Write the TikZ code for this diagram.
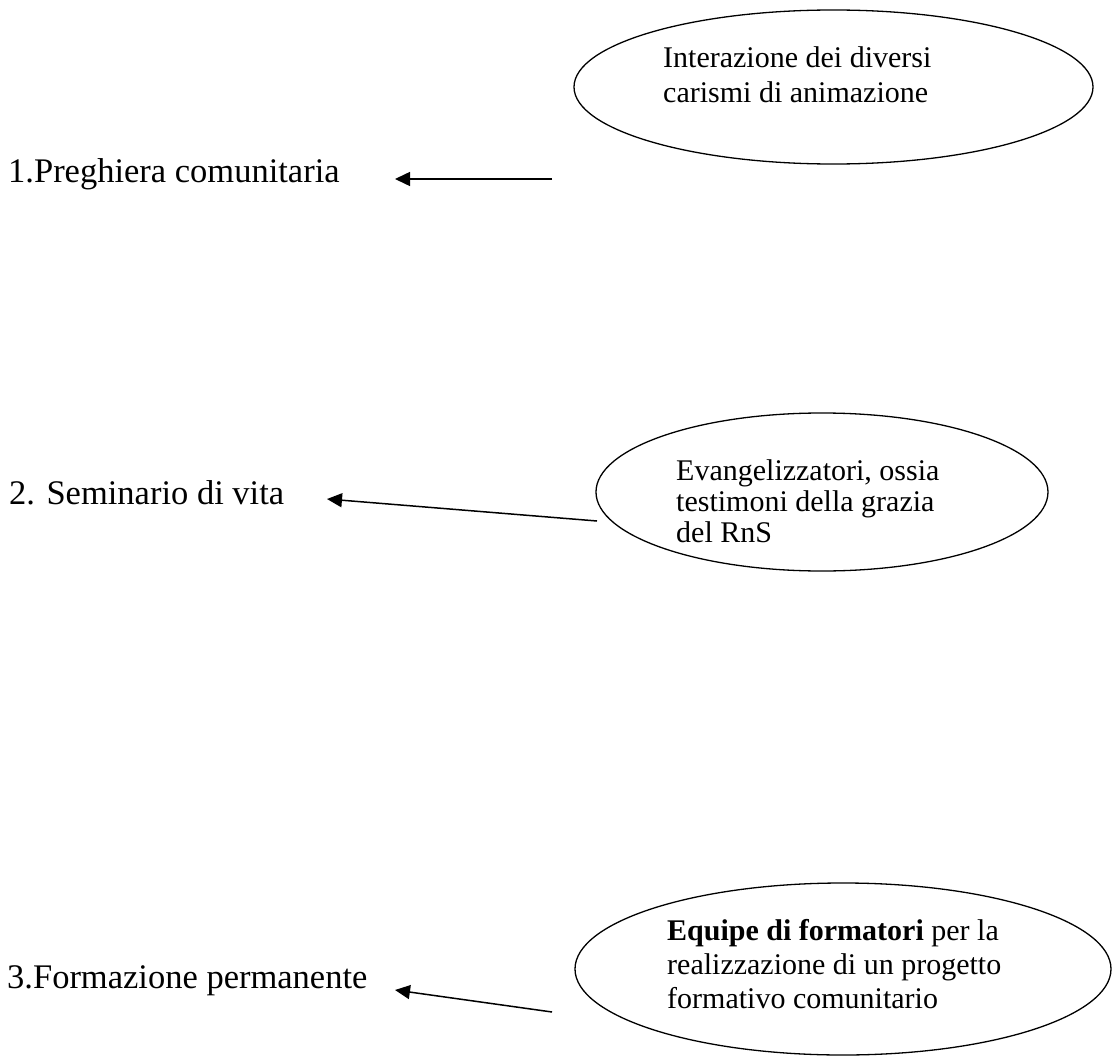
\documentclass[tikz,border=0pt]{standalone}
\usepackage{fontspec}
\setmainfont{Liberation Serif}
\usetikzlibrary{shapes.geometric, arrows.meta}
\begin{document}
\begin{tikzpicture}[x=1pt,y=-1pt,
  oval/.style={draw, ellipse, line width=1.3pt, inner sep=0pt},
  lefttext/.style={anchor=base west, inner sep=0pt, font=\fontsize{34.5}{40}\selectfont},
  ovaltext/.style={anchor=base west, inner sep=0pt, font=\fontsize{30}{34}\selectfont},
  arr/.style={line width=1.5pt, -{Triangle[length=15pt,width=14pt]}}]
\useasboundingbox (0,0) rectangle (1112,1057);
% left labels
\node[lefttext] (p1) at (8,182) {1.Preghiera comunitaria};
\node[lefttext] (p2) at (9,504) {2. Seminario di vita};
\node[lefttext] (p3) at (7,988) {3.Formazione permanente};
% ellipses
\node[oval, minimum width=519pt, minimum height=154pt] (e1) at (833.5,87) {};
\node[oval, minimum width=452pt, minimum height=158pt] (e2) at (822,492) {};
\node[oval, minimum width=536pt, minimum height=172pt] (e3) at (843,969) {};
% ellipse texts
\node[ovaltext, font=\fontsize{30}{35}\selectfont] (t1) at (663,68)
  {\begin{tabular}[t]{@{}l@{}}Interazione dei diversi\\carismi di animazione\end{tabular}};
\node[ovaltext, font=\fontsize{30}{31}\selectfont] (t2) at (676,480)
  {\begin{tabular}[t]{@{}l@{}}Evangelizzatori, ossia\\testimoni della grazia\\del RnS\end{tabular}};
\node[ovaltext] (t3) at (667,940)
  {\begin{tabular}[t]{@{}l@{}}\textbf{Equipe di formatori} per la\\realizzazione di un progetto\\formativo comunitario\end{tabular}};
% connectors
\coordinate (s1) at (552,179); \coordinate (h1) at (395,179);
\coordinate (s2) at (597,521); \coordinate (h2) at (327,499);
\coordinate (s3) at (552,1012); \coordinate (h3) at (395,990);
\draw[arr] (s1) -- (h1);
\draw[arr] (s2) -- (h2);
\draw[arr] (s3) -- (h3);
\end{tikzpicture}
\end{document}
